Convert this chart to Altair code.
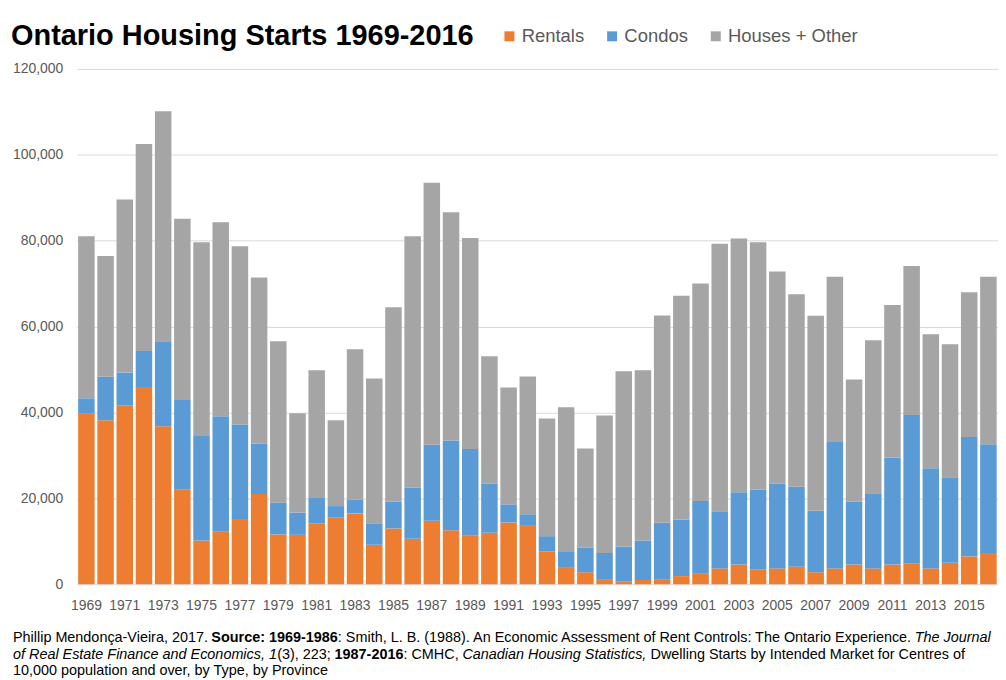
import altair as alt
import pandas as pd

years = list(range(1969, 2017))
rentals = [39700, 38200, 41700, 45900, 36800, 22000, 10200, 12200, 15200, 21000,
           11600, 11500, 14100, 15600, 16500, 9200, 13000, 10600, 14800, 12600,
           11300, 12000, 14400, 13600, 7600, 4000, 2800, 1200, 600, 1000,
           1200, 1900, 2600, 3700, 4600, 3500, 3700, 4100, 2800, 3700,
           4600, 3700, 4600, 4900, 3700, 5000, 6500, 7300]
condos = [3600, 10100, 7600, 8400, 19800, 20900, 24300, 26900, 22000, 11700,
          7400, 5200, 6000, 2600, 3200, 5000, 6200, 11900, 17700, 20900,
          20200, 11400, 4200, 2700, 3600, 3700, 5700, 6100, 8200, 9200,
          13100, 13200, 16800, 13300, 16800, 18500, 19700, 18600, 14300, 29400,
          14600, 17500, 24900, 34500, 23300, 19900, 27800, 25300]
houses_other = [37700, 28100, 40300, 48200, 53500, 42200, 45100, 45200, 41500, 38700,
                37600, 23100, 29700, 20000, 35000, 33700, 45300, 58500, 61000, 53100,
                49100, 29700, 27200, 32100, 27400, 33500, 23100, 32000, 40800, 39600,
                48300, 52100, 50600, 62300, 59100, 57600, 49400, 44800, 45400, 38500,
                28500, 35600, 35500, 34700, 31200, 31000, 33700, 39000]

series_names = ["Rentals", "Condos", "Houses + Other"]
series_colors = ["#ED7D31", "#5B9BD5", "#A5A5A5"]
y_ticks = [0, 20000, 40000, 60000, 80000, 100000, 120000]
x_tick_years = years[::2]

title_text = "Ontario Housing Starts 1969-2016"
footer_lines = [
    [("Phillip Mendonça-Vieira, 2017. ", "normal"), ("Source: 1969-1986", "bold"),
     (": Smith, L. B. (1988). An Economic Assessment of Rent Controls: The Ontario Experience. ", "normal"),
     ("The Journal", "italic")],
    [("of Real Estate Finance and Economics, 1", "italic"), ("(3), 223; ", "normal"),
     ("1987-2016", "bold"), (": CMHC, ", "normal"), ("Canadian Housing Statistics, ", "italic"),
     ("Dwelling Starts by Intended Market for Centres of", "normal")],
    [("10,000 population and over, by Type, by Province", "normal")],
]

# ---- data table ----
rows = []
for i, y in enumerate(years):
    for k, (name, vals) in enumerate(zip(series_names, [rentals, condos, houses_other])):
        rows.append({"year": y, "series": name, "value": vals[i], "ord": k})
df = pd.DataFrame(rows)

FONT = "Liberation Sans"
GREY_TXT = "#595959"
W, H = 924, 517

bars = alt.Chart(df).mark_bar().encode(
    x=alt.X("year:O", title=None,
            scale=alt.Scale(paddingInner=0.14, paddingOuter=0.07),
            axis=alt.Axis(values=x_tick_years, labelAngle=0, ticks=False, domain=False,
                          labelFontSize=14, labelColor=GREY_TXT, labelPadding=14,
                          labelFont=FONT)),
    y=alt.Y("value:Q", title=None, stack="zero",
            scale=alt.Scale(domain=[0, 120000], nice=False),
            axis=alt.Axis(values=y_ticks, format=",.0f", ticks=False, domain=False,
                          gridColor="#D9D9D9", labelFontSize=14, labelColor=GREY_TXT,
                          labelPadding=14, labelFont=FONT)),
    color=alt.Color("series:N",
                    scale=alt.Scale(domain=series_names, range=series_colors),
                    legend=alt.Legend(title=None, orient="none", legendX=424.7, legendY=-42,
                                      direction="horizontal", symbolType="square",
                                      symbolSize=100, symbolStrokeWidth=0,
                                      labelFontSize=18.5, labelColor=GREY_TXT,
                                      labelFont=FONT, labelOffset=3, columnPadding=18,
                                      padding=0)),
    order=alt.Order("ord:Q", sort="ascending"),
)

layers = [bars]

# title
layers.append(
    alt.Chart(pd.DataFrame({"t": [title_text]})).mark_text(
        align="left", baseline="alphabetic", font=FONT, fontSize=29, fontWeight="bold",
        color="#000000"
    ).encode(text="t:N", x=alt.value(-66), y=alt.value(-24))
)

# footer: lay out rich-text segments with Arial/Liberation metrics
REG = {' ': 278, ',': 278, '-': 333, '.': 278, ':': 278, ';': 278, '(': 333, ')': 333,
       'A': 667, 'B': 667, 'C': 722, 'D': 722, 'E': 667, 'F': 611, 'H': 722, 'I': 278,
       'J': 500, 'L': 556, 'M': 833, 'O': 778, 'P': 667, 'R': 722, 'S': 667, 'T': 611,
       'V': 667, 'a': 556, 'b': 556, 'c': 500, 'd': 556, 'e': 556, 'f': 278, 'g': 556,
       'h': 556, 'i': 222, 'j': 222, 'k': 500, 'l': 222, 'm': 833, 'n': 556, 'o': 556,
       'p': 556, 'r': 333, 's': 500, 't': 278, 'u': 556, 'v': 500, 'w': 722, 'x': 500,
       'y': 500, 'ç': 500}
BOLD = {' ': 278, ':': 333, '-': 333, 'S': 667, 'o': 611, 'u': 611, 'r': 389, 'c': 556,
        'e': 556}
STYLE_FACTOR = {"normal": 0.995, "italic": 1.0, "bold": 1.0}


def em(text, style):
    table = BOLD if style == "bold" else REG
    return sum(table.get(ch, 556) for ch in text) / 1000.0 * STYLE_FACTOR[style]


x0 = 13 - 77
line1_em = sum(em(t, s) for t, s in footer_lines[0])
foot_fs = 14.45
line_y = [575, 591.5, 608]

for li, segs in enumerate(footer_lines):
    x = x0
    for text, style in segs:
        kw = dict(align="left", baseline="alphabetic", font=FONT, fontSize=foot_fs,
                  color="#000000")
        if style == "bold":
            kw["fontWeight"] = "bold"
        if style == "italic":
            kw["fontStyle"] = "italic"
        layers.append(
            alt.Chart(pd.DataFrame({"t": [text]})).mark_text(**kw).encode(
                text="t:N", x=alt.value(round(x, 2)), y=alt.value(line_y[li]))
        )
        x += em(text, style) * foot_fs

chart = alt.layer(*layers).properties(
    width=W, height=H,
    autosize=alt.AutoSizeParams(type="none"),
    padding={"left": 69, "top": 60, "right": 0, "bottom": 95},
    background="#FFFFFF",
).configure_view(stroke=None)

chart.save("out.html", embed_options={"renderer": "svg", "actions": False})
